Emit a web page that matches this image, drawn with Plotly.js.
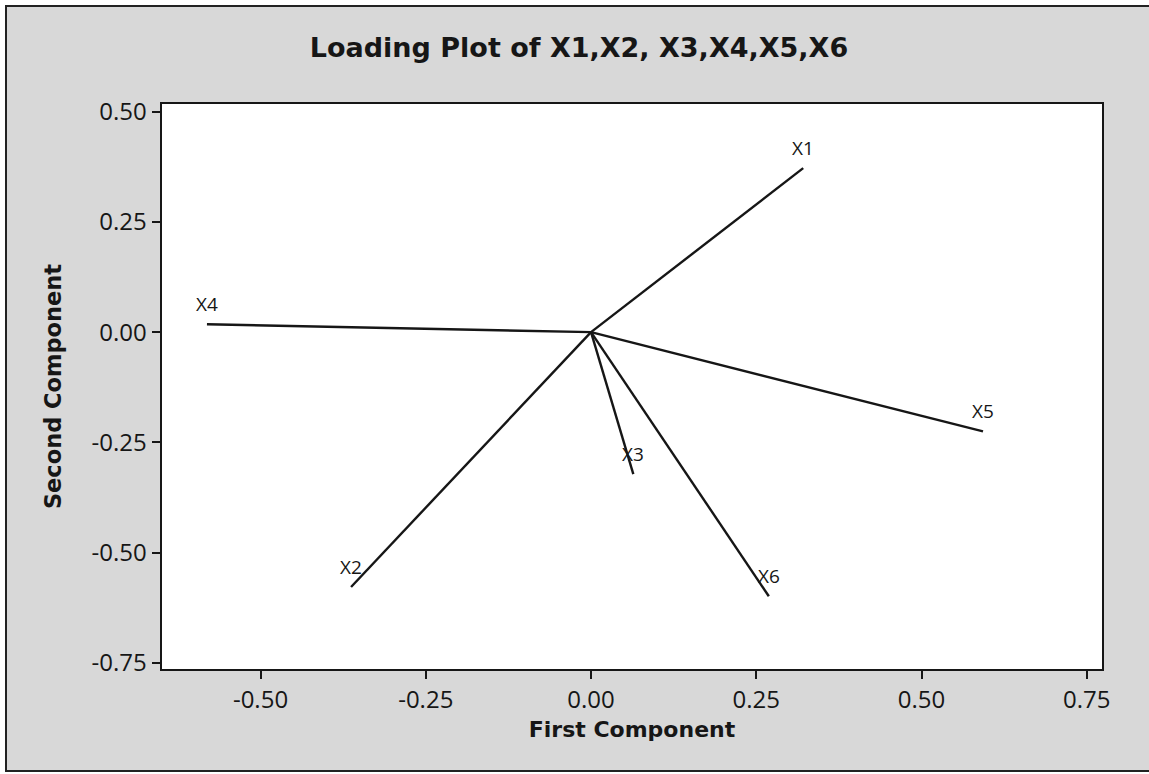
<!DOCTYPE html>
<html>
<head>
<meta charset="utf-8">
<script src="https://cdn.plot.ly/plotly-3.0.1.min.js"></script>
<style>
  html, body { margin: 0; padding: 0; background: #ffffff; width: 1149px; height: 774px; overflow: hidden; }
  #plot { position: absolute; left: 5px; top: 5px; width: 1144px; height: 763px;
          border-top: 2px solid #222; border-left: 2px solid #222; border-bottom: 2px solid #222; }
</style>
</head>
<body>
<div id="plot"></div>
<script>
const variables = ["X1", "X2", "X3", "X4", "X5", "X6"];
const firstComponent = [0.321, -0.363, 0.064, -0.581, 0.593, 0.269];
const secondComponent = [0.372, -0.578, -0.322, 0.018, -0.225, -0.599];
const xTicks = [-0.50, -0.25, 0.00, 0.25, 0.50, 0.75];
const yTicks = [-0.75, -0.50, -0.25, 0.00, 0.25, 0.50];

const fontFam = "'Open Sans', 'Noto Sans', sans-serif";
const boldFam = "'DejaVu Sans', 'Open Sans', sans-serif";
const ink = "#161616";

const traces = variables.map((v, i) => ({
  type: "scatter",
  mode: "lines",
  x: [0, firstComponent[i]],
  y: [0, secondComponent[i]],
  line: { color: ink, width: 2.4 },
  hoverinfo: "skip",
  showlegend: false
}));

const annotations = variables.map((v, i) => ({
  x: firstComponent[i],
  y: secondComponent[i],
  xref: "x", yref: "y",
  text: v,
  showarrow: false,
  xanchor: "center",
  yanchor: "middle",
  yshift: 20,
  font: { family: fontFam, size: 19, color: ink }
}));

const layout = {
  width: 1144,
  height: 763,
  paper_bgcolor: "#d8d8d8",
  plot_bgcolor: "#ffffff",
  margin: { l: 155, r: 49, t: 97, b: 101 },
  title: {
    text: "<b>Loading Plot of X1,X2, X3,X4,X5,X6</b>",
    font: { family: boldFam, size: 27, color: ink },
    x: 0.5, xref: "container", xanchor: "center",
    y: 1 - 41 / 763, yref: "container", yanchor: "middle"
  },
  xaxis: {
    range: [-0.649, 0.773],
    tickvals: xTicks,
    ticktext: xTicks.map(t => t.toFixed(2)),
    ticks: "outside", ticklen: 8, tickwidth: 2, tickcolor: ink,
    showline: true, linewidth: 2.4, linecolor: ink, mirror: true,
    showgrid: false, zeroline: false,
    tickfont: { family: fontFam, size: 24, color: ink },
    title: { text: "<b>First Component</b>", font: { family: boldFam, size: 22, color: ink }, standoff: 8 }
  },
  yaxis: {
    range: [-0.764, 0.5175],
    tickvals: yTicks,
    ticktext: yTicks.map(t => t.toFixed(2)),
    ticks: "outside", ticklen: 8, tickwidth: 2, tickcolor: ink,
    showline: true, linewidth: 2.4, linecolor: ink, mirror: true,
    showgrid: false, zeroline: false,
    tickfont: { family: fontFam, size: 24, color: ink },
    title: { text: "<b>Second Component</b>", font: { family: boldFam, size: 22.5, color: ink }, standoff: 24 }
  },
  annotations: annotations
};

Plotly.newPlot("plot", traces, layout, { displayModeBar: false, staticPlot: true });
</script>
</body>
</html>
